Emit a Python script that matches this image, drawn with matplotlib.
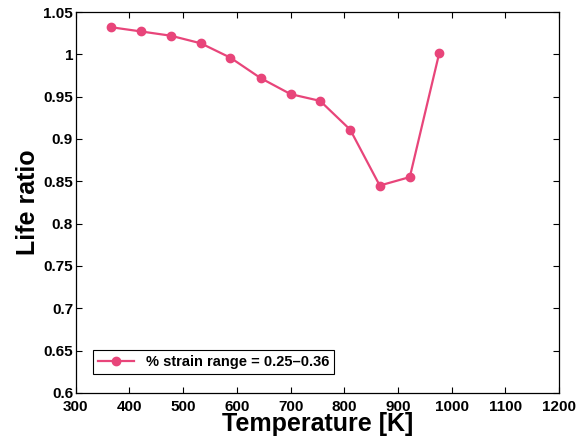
import matplotlib
matplotlib.use('Agg')
import matplotlib.pyplot as plt

# Datos
temperatura = [366, 422, 477, 533, 588, 644, 700, 755, 811, 866, 922, 977]
life_ratio = [1.032, 1.027, 1.022, 1.013, 0.996, 0.972, 0.953, 0.945, 0.911, 0.845, 0.855, 1.002]
xticks = [300, 400, 500, 600, 700, 800, 900, 1000, 1100, 1200]
yticks = [0.6, 0.65, 0.7, 0.75, 0.8, 0.85, 0.9, 0.95, 1.0, 1.05]
ytick_labels = ['0.6', '0.65', '0.7', '0.75', '0.8', '0.85', '0.9', '0.95', '1', '1.05']

plt.rcParams['font.family'] = ['Liberation Sans', 'DejaVu Sans']

fig = plt.figure(figsize=(5.83, 4.45), dpi=100)
ax = fig.add_axes([0.130, 0.117, 0.829, 0.856])

color = '#e8457a'
ax.plot(temperatura, life_ratio, color=color, linewidth=1.6, marker='o',
        markersize=6, label='% strain range = 0.25\u20130.36')

ax.set_xlim(300, 1200)
ax.set_ylim(0.6, 1.05)
ax.set_xticks(xticks)
ax.set_yticks(yticks)
ax.set_yticklabels(ytick_labels)
ax.tick_params(direction='in', top=True, right=True, length=4, width=0.8,
               labelsize=11)
ax.tick_params(axis='x', pad=5)
ax.tick_params(axis='y', pad=2)
for lbl in ax.get_xticklabels() + ax.get_yticklabels():
    lbl.set_fontweight('bold')

ax.set_xlabel('Temperature [K]', fontsize=18, fontweight='bold', labelpad=-1)
ax.set_ylabel('Life ratio', fontsize=18, fontweight='bold', labelpad=2)

leg = ax.legend(loc='lower left', bbox_to_anchor=(0.02, 0.03), fancybox=False,
                edgecolor='black', framealpha=1, prop={'weight': 'bold', 'size': 10.5},
                handlelength=2.5, borderpad=0.35)
leg.get_frame().set_linewidth(0.8)

for s in ax.spines.values():
    s.set_linewidth(0.9)

plt.savefig('out.png', dpi=100)
